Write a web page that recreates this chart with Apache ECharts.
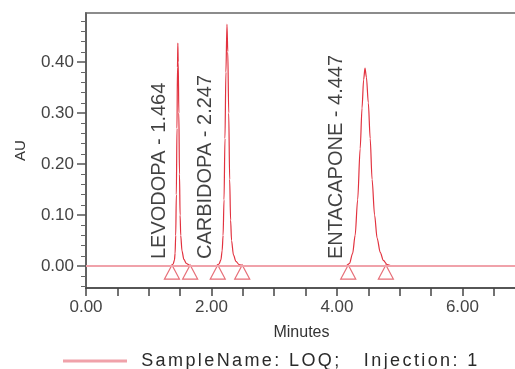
<!DOCTYPE html>
<html>
<head>
<meta charset="utf-8">
<script src="https://cdn.jsdelivr.net/npm/echarts@6/dist/echarts.min.js"></script>
<style>
  html, body { margin: 0; padding: 0; background: #fff; }
  #chart { width: 515px; height: 369px; }
</style>
</head>
<body>
<div id="chart"></div>
<script>
// detector trace (minutes, AU)
const traceTime = [
  0, 1.30, 1.36, 1.39, 1.41, 1.42, 1.43, 1.44, 1.45, 1.458, 1.464, 1.47, 1.48, 1.49, 1.50, 1.51, 1.53, 1.56, 1.60, 1.66, 1.72,
  2.00, 2.08, 2.12, 2.15, 2.17, 2.185, 2.20, 2.215, 2.23, 2.247, 2.26, 2.275, 2.29, 2.305, 2.32, 2.35, 2.39, 2.44, 2.50, 2.56,
  4.05, 4.15, 4.20, 4.25, 4.29, 4.33, 4.37, 4.40, 4.425, 4.447, 4.47, 4.50, 4.53, 4.56, 4.60, 4.64, 4.69, 4.74, 4.80, 4.88,
  6.87
]
const traceAU = [
  0, 0, 0.001, 0.004, 0.012, 0.025, 0.06, 0.14, 0.27, 0.39, 0.437, 0.40, 0.30, 0.18, 0.10, 0.06, 0.03, 0.013, 0.005, 0.001, 0,
  0, 0.001, 0.004, 0.012, 0.03, 0.06, 0.13, 0.25, 0.38, 0.474, 0.42, 0.30, 0.17, 0.09, 0.05, 0.022, 0.009, 0.003, 0.001, 0,
  0, 0.001, 0.005, 0.025, 0.06, 0.13, 0.23, 0.31, 0.365, 0.388, 0.37, 0.32, 0.25, 0.17, 0.10, 0.055, 0.027, 0.011, 0.003, 0,
  0
]

// 峰信息
const peakNames = ['LEVODOPA', 'CARBIDOPA', 'ENTACAPONE']
const peakRT = [1.464, 2.247, 4.447]
const peakStart = [1.37, 2.10, 4.18]
const peakEnd = [1.66, 2.49, 4.78]

// 坐标轴刻度
const xTickLabels = [0, 2, 4, 6]
const yMajorTicks = [0, 0.1, 0.2, 0.3, 0.4]
const yMinorTicks = [-0.04, -0.02, 0.02, 0.04, 0.06, 0.08, 0.12, 0.14, 0.16, 0.18,
  0.22, 0.24, 0.26, 0.28, 0.32, 0.34, 0.36, 0.38, 0.42, 0.44, 0.46, 0.48]

const traceName = 'SampleName: LOQ;   Injection: 1'

const FONT = '"Liberation Sans", Arial, sans-serif'
const RED = '#e2323f'
const PINK = '#f0a2aa'

const chart = echarts.init(document.getElementById('chart'), null, { renderer: 'canvas' })

const traceData = traceTime.map((t, i) => [t, traceAU[i]])
const markerData = peakStart.concat(peakEnd).map((t) => [t, 0])
const labelData = peakStart.map((t) => [t, 0])

// legend 文字加字距
const spaced = (s) => s.split('').map((ch) => `{c|${ch}}`).join('')

chart.setOption({
  backgroundColor: '#fff',
  animation: false,
  textStyle: { fontFamily: FONT },
  grid: {
    left: 86, right: -2, top: 13, bottom: 81,
    show: true, borderColor: '#8c8c8c', borderWidth: 2,
    outerBoundsMode: 'none',
  },
  legend: {
    data: [{ name: traceName, icon: 'rect' }],
    left: 58, top: 347,
    itemWidth: 64, itemHeight: 3,
    itemStyle: { color: PINK },
    formatter: (name) => spaced(name),
    textStyle: {
      padding: [0, 0, 0, 8],
      rich: { c: { fontSize: 18, color: '#2a2a2a', fontFamily: FONT, padding: [0, 1.2, 0, 1.2] } },
    },
  },
  xAxis: {
    type: 'value',
    min: 0, max: 6.87, interval: 0.5,
    name: 'Minutes', nameLocation: 'middle', nameGap: 37,
    nameTextStyle: { fontSize: 16, color: '#333' },
    axisLine: { onZero: false, lineStyle: { color: '#444', width: 1.5 } },
    axisTick: { length: 8, lineStyle: { color: '#444', width: 1.5 } },
    axisLabel: {
      fontSize: 17, color: '#444', margin: 11,
      formatter: (v) => (xTickLabels.some((x) => Math.abs(x - v) < 1e-6) ? v.toFixed(2) : ''),
    },
    splitLine: { show: false },
  },
  yAxis: [
    {
      type: 'value',
      min: -0.043, max: 0.496,
      name: 'AU', nameLocation: 'middle', nameGap: 58,
      nameTextStyle: { fontSize: 15, color: '#333' },
      axisLine: { show: true, lineStyle: { color: '#555', width: 1.5 } },
      axisTick: { customValues: yMajorTicks, length: 9, lineStyle: { color: '#555', width: 1.5 } },
      axisLabel: {
        customValues: yMajorTicks, fontSize: 17, color: '#444', margin: 12,
        formatter: (v) => v.toFixed(2),
      },
      splitLine: { show: false },
    },
    {
      type: 'value',
      min: -0.043, max: 0.496,
      position: 'left',
      axisLine: { show: false },
      axisTick: { show: true, customValues: yMinorTicks, length: 5, lineStyle: { color: '#666', width: 1 } },
      axisLabel: { show: false },
      splitLine: { show: false },
    },
  ],
  series: [
    {
      name: traceName,
      type: 'line',
      data: traceData,
      showSymbol: false,
      symbol: 'none',
      smooth: 0.3,
      smoothMonotone: 'x',
      lineStyle: { color: RED, width: 1.2 },
      itemStyle: { color: RED },
      markLine: {
        silent: true,
        symbol: 'none',
        label: { show: false },
        lineStyle: { color: PINK, width: 2, type: 'solid' },
        data: [{ yAxis: 0 }],
      },
      z: 3,
    },
    {
      name: 'markers',
      type: 'scatter',
      data: markerData,
      symbol: 'triangle',
      symbolSize: [15, 14],
      symbolOffset: [0, 6],
      itemStyle: { color: 'rgba(0,0,0,0)', borderColor: '#e04a55', borderWidth: 1.2 },
      silent: true,
      z: 4,
    },
    {
      name: 'peaks',
      type: 'scatter',
      data: labelData,
      symbolSize: 0,
      silent: true,
      label: {
        show: true,
        position: 'inside',
        rotate: 90,
        align: 'left',
        verticalAlign: 'middle',
        // 旋转后的局部坐标：x 向上，y 向右
        offset: [7, -12],
        fontSize: 20,
        color: '#111',
        formatter: (p) => `${peakNames[p.dataIndex]} - ${peakRT[p.dataIndex].toFixed(3)}`,
      },
      z: 5,
    },
  ],
})
</script>
</body>
</html>
